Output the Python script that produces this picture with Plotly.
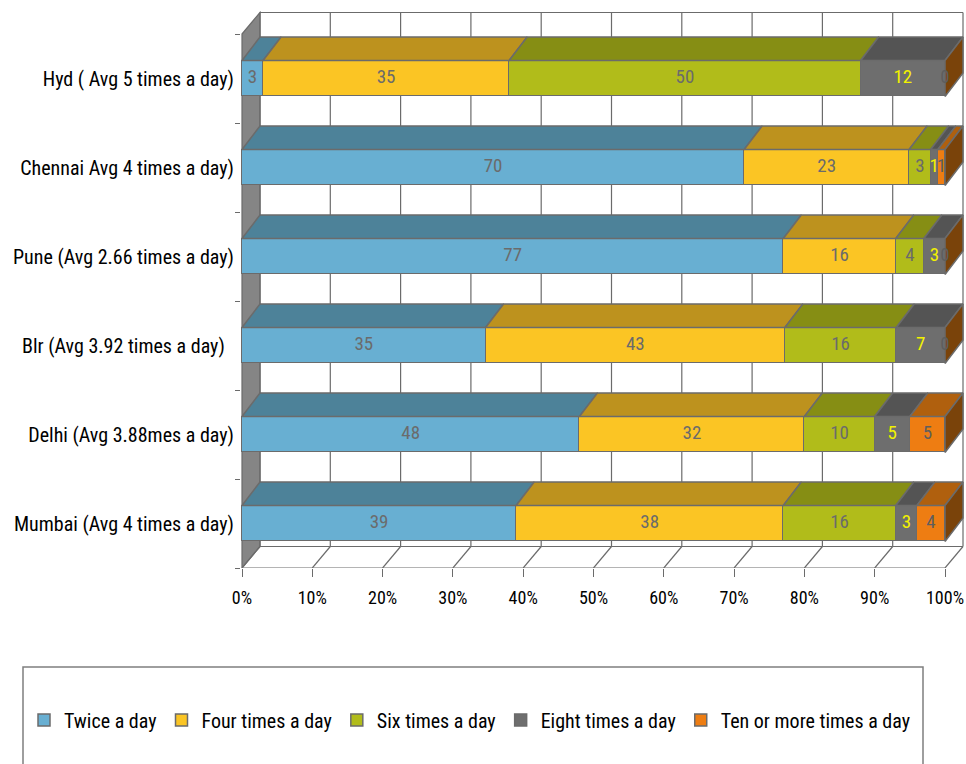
import plotly.graph_objects as go

# ---- data -------------------------------------------------------------
cities = [
    "Mumbai (Avg 4 times a day)",
    "Delhi (Avg 3.88mes a day)",
    "Blr (Avg 3.92 times a day)  ",
    "Pune (Avg 2.66 times a day)",
    "Chennai Avg 4 times a day)",
    "Hyd ( Avg 5 times a day)",
]
series_names = ["Twice a day", "Four times a day", "Six times a day",
                "Eight times a day", "Ten or more times a day"]
twice = [39, 48, 35, 77, 70, 3]
four_times = [38, 32, 43, 16, 23, 35]
six_times = [16, 10, 16, 4, 3, 50]
eight_times = [3, 5, 7, 3, 1, 12]
ten_plus = [4, 5, 0, 0, 1, 0]
series_values = [twice, four_times, six_times, eight_times, ten_plus]
x_ticks = [0, 10, 20, 30, 40, 50, 60, 70, 80, 90, 100]

# ---- styling ----------------------------------------------------------
FONT = "Liberation Sans Narrow, Arial Narrow, Roboto Condensed, Roboto, sans-serif"
front_col = ["#68AFD2", "#FBC524", "#B1BC1A", "#6E6E6E", "#EE7D12"]
top_col = ["#4D8299", "#BD921E", "#868E14", "#545454", "#B0600E"]
side_col = "#7A430A"
label_col = ["#6B6B6B", "#6B6B6B", "#6B6B6B", "#F2F200", "#5E5E5E"]
edge = "#6B6B6B"

W, H = 966, 764
ML, MR, MT, MB = 241, 2, 5, 196
PLOT_W, PLOT_H = W - ML - MR, H - MT - MB
PXX, PXY = 7.03, 89.0            # px per x unit / per category
X_ZERO_PX = 242                   # pixel column of 0 %
x_lo = -(X_ZERO_PX - ML) / PXX
x_range = [x_lo, x_lo + PLOT_W / PXX]
y_range = [-0.5, -0.5 + PLOT_H / PXY]

HALF = 0.202                      # half thickness of the bar front face
BDX, BDY = 18 / PXX, 23.5 / PXY   # bar depth offset
WDX, WDY = 18 / PXX, 21.5 / PXY   # wall depth offset

n = len(cities)
ypos = list(range(n))

# normalised stacks (100 % stacked)
totals = [sum(s[i] for s in series_values) for i in range(n)]
pct = [[s[i] * 100.0 / totals[i] for i in range(n)] for s in series_values]
starts = []
acc = [0.0] * n
for j in range(len(series_values)):
    starts.append(acc[:])
    acc = [acc[i] + pct[j][i] for i in range(n)]

fig = go.Figure()

# front faces
for j, name in enumerate(series_names):
    fig.add_trace(go.Bar(
        y=ypos, x=series_values[j], orientation="h", name=name,
        width=2 * HALF, marker=dict(color=front_col[j], line=dict(color=edge, width=1.5)),
        hoverinfo="skip",
    ))

# top faces of each segment
for j in range(len(series_values)):
    xs, ys = [], []
    for i in range(n):
        if pct[j][i] <= 0:
            continue
        x0, x1 = starts[j][i], starts[j][i] + pct[j][i]
        yt = ypos[i] + HALF
        xs += [x0, x1, x1 + BDX, x0 + BDX, x0, None]
        ys += [yt, yt, yt + BDY, yt + BDY, yt, None]
    fig.add_trace(go.Scatter(x=xs, y=ys, mode="lines", fill="toself",
                             fillcolor=top_col[j], line=dict(color=edge, width=1.5),
                             showlegend=False, hoverinfo="skip"))

# right end faces
xs, ys = [], []
for i in range(n):
    yb, yt = ypos[i] - HALF, ypos[i] + HALF
    xs += [100, 100, 100 + BDX, 100 + BDX, 100, None]
    ys += [yb, yt, yt + BDY, yb + BDY, yb, None]
fig.add_trace(go.Scatter(x=xs, y=ys, mode="lines", fill="toself", fillcolor=side_col,
                         line=dict(color=edge, width=1.5), showlegend=False, hoverinfo="skip"))

# value labels
for j in range(len(series_values)):
    fig.add_trace(go.Scatter(
        x=[starts[j][i] + pct[j][i] / 2 for i in range(n)], y=ypos,
        mode="text", text=[str(v) for v in series_values[j]],
        textfont=dict(family=FONT, size=19, color=label_col[j]),
        showlegend=False, hoverinfo="skip", cliponaxis=False))

# walls, floor and gridlines behind the bars
shapes = []
y_bot, y_top = -0.5, n - 0.5
shapes.append(dict(type="path", layer="below", fillcolor="#858585",
                   line=dict(color=edge, width=1.2),
                   path=f"M0,{y_top} L{WDX},{y_top + WDY} L{WDX},{y_bot + WDY} L0,{y_bot} Z"))
for t in x_ticks:
    # back wall gridline
    shapes.append(dict(type="line", layer="below", x0=t + WDX, x1=t + WDX,
                       y0=y_bot + WDY, y1=y_top + WDY, line=dict(color=edge, width=1.2)))
    # floor line
    shapes.append(dict(type="line", layer="below", x0=t, x1=t + WDX,
                       y0=y_bot, y1=y_bot + WDY, line=dict(color=edge, width=1.2)))
for (a, b, c, d) in [(WDX, y_top + WDY, 100 + WDX, y_top + WDY),
                     (WDX, y_bot + WDY, 100 + WDX, y_bot + WDY),
                     (0, y_bot, 100, y_bot)]:
    shapes.append(dict(type="line", layer="below", x0=a, y0=b, x1=c, y1=d,
                       line=dict(color=edge, width=1.2)))


def paper_x(px):
    return (px - ML) / PLOT_W


def paper_y(py):
    return (H - MB - py) / PLOT_H


# legend frame
shapes.append(dict(type="rect", xref="paper", yref="paper",
                   x0=paper_x(23), x1=paper_x(923), y0=paper_y(667), y1=paper_y(800),
                   line=dict(color="#7F7F7F", width=1.5), fillcolor="rgba(0,0,0,0)"))

fig.update_layout(
    width=W, height=H, margin=dict(l=ML, r=MR, t=MT, b=MB),
    paper_bgcolor="white", plot_bgcolor="white",
    barmode="stack", barnorm="percent", bargap=0,
    shapes=shapes, showlegend=True,
    font=dict(family=FONT, size=19, color="black"),
    xaxis=dict(range=x_range, tickvals=x_ticks, ticktext=[f"{t}%" for t in x_ticks],
               ticks="outside", ticklen=8, tickcolor=edge, showgrid=False, zeroline=False,
               showline=False, tickfont=dict(family=FONT, size=18), ticklabelstandoff=5),
    yaxis=dict(range=y_range, tickvals=ypos, ticktext=cities, ticks="", showgrid=False,
               zeroline=False, showline=False, tickfont=dict(family=FONT, size=20),
               ticklabelstandoff=6,
               minor=dict(tickvals=[k - 0.5 for k in range(n + 1)], ticks="outside",
                          ticklen=5, tickcolor=edge)),
    legend=dict(orientation="h", x=paper_x(24), xanchor="left", y=paper_y(720),
                yanchor="middle", font=dict(family=FONT, size=20),
                bgcolor="rgba(0,0,0,0)", itemwidth=30, traceorder="normal"),
)

fig.write_html("out.html")
